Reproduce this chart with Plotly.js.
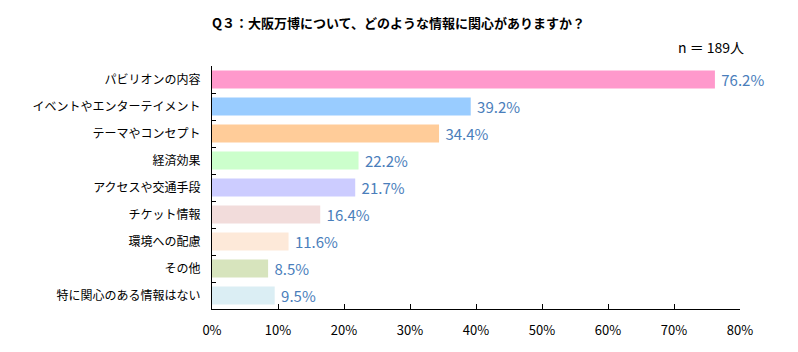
<!DOCTYPE html>
<html>
<head>
<meta charset="utf-8">
<script src="https://cdn.plot.ly/plotly-3.0.1.min.js"></script>
<style>html,body{margin:0;padding:0;background:#fff;}#chart{width:798px;height:352px;}</style>
</head>
<body>
<div id="chart"></div>
<script>
const categories = ["パビリオンの内容","イベントやエンターテイメント","テーマやコンセプト","経済効果","アクセスや交通手段","チケット情報","環境への配慮","その他","特に関心のある情報はない"];
const values = [76.2, 39.2, 34.4, 22.2, 21.7, 16.4, 11.6, 8.5, 9.5];
const barColors = ["#FF99CC","#99CCFF","#FFCC99","#CCFFCC","#CCCCFF","#F2DCDB","#FDE9D9","#D7E4BD","#DBEEF4"];
const titleText = "Q３：大阪万博について、どのような情報に関心がありますか？";
const sampleText = "n ＝ 189人";

const font = "'Noto Sans CJK JP', 'Noto Sans', sans-serif";
const trace = {
  type: "bar",
  orientation: "h",
  y: categories,
  x: values,
  marker: {color: barColors},
  width: 0.66,
  texttemplate: " %{x:.1f}%",
  textposition: "outside",
  constraintext: "none",
  cliponaxis: false,
  textfont: {color: "#4A7EBB", size: 15, family: font},
  hoverinfo: "none"
};
const layout = {
  width: 798, height: 352,
  margin: {l: 212, r: 58, t: 66, b: 43},
  paper_bgcolor: "#fff", plot_bgcolor: "#fff",
  showlegend: false,
  xaxis: {
    range: [0, 80], dtick: 10, tick0: 0, ticksuffix: "%",
    showgrid: false, zeroline: false,
    showline: true, linecolor: "#000", linewidth: 1,
    ticks: "inside", ticklen: 5, tickcolor: "#000",
    tickfont: {size: 13, color: "#000", family: font},
    ticklabelstandoff: 9
  },
  yaxis: {
    autorange: "reversed",
    showgrid: false, zeroline: false,
    showline: true, linecolor: "#000", linewidth: 1,
    ticks: "inside", ticklen: 4, tickcolor: "#000", tickson: "boundaries",
    tickfont: {size: 12, color: "#000", family: font},
    ticklabelstandoff: 8
  },
  annotations: [
    {text: "<b>" + titleText + "</b>", xref: "paper", yref: "paper", x: (398-212)/528, y: 1, yshift: 44, xanchor: "center", yanchor: "middle", showarrow: false, font: {size: 13, color: "#000", family: font}},
    {text: sampleText, xref: "paper", yref: "paper", x: (746-212)/528, y: 1, yshift: 19, xanchor: "right", yanchor: "middle", showarrow: false, font: {size: 14, color: "#000", family: font}}
  ]
};
Plotly.newPlot("chart", [trace], layout, {staticPlot: true, displayModeBar: false});
</script>
</body>
</html>
